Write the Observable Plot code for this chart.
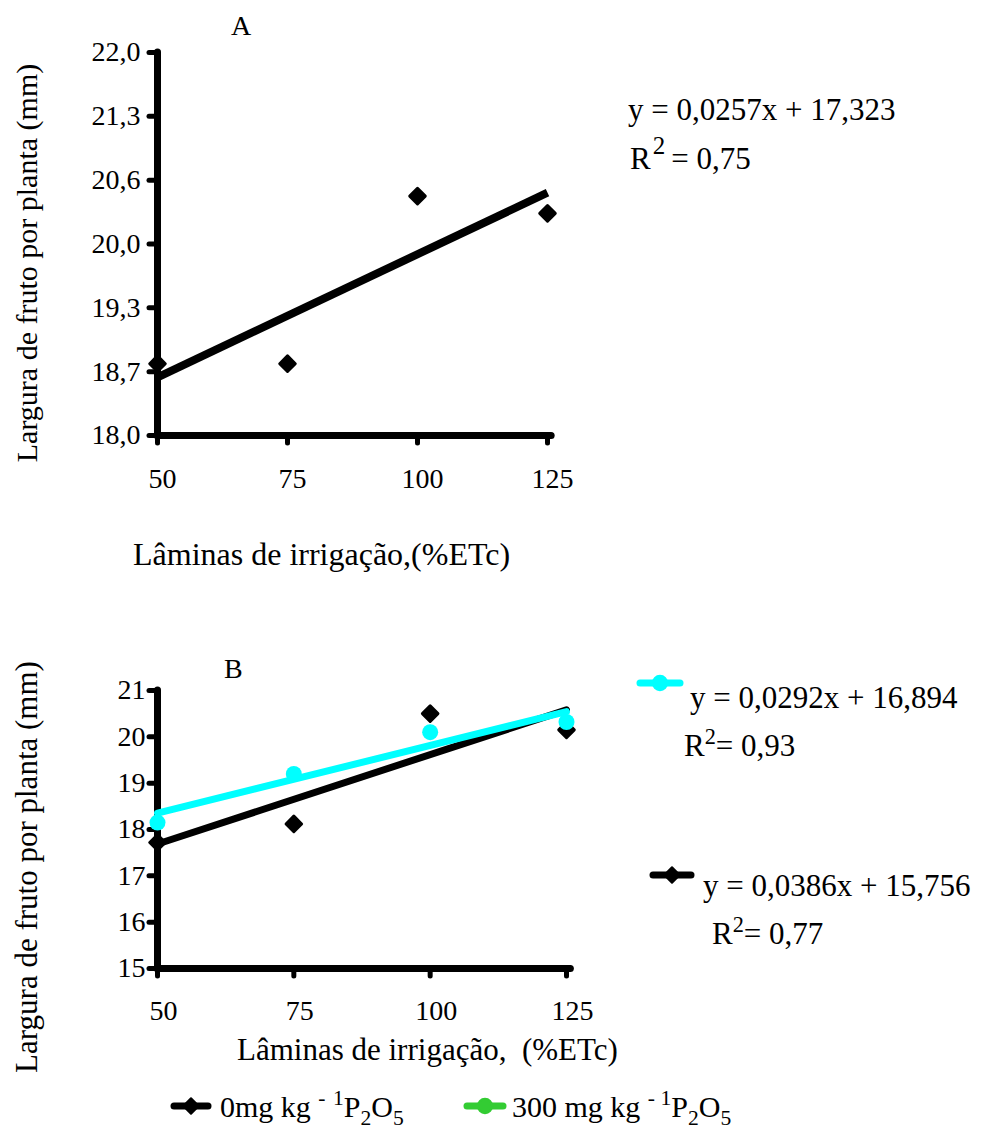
<!DOCTYPE html>
<html>
<head>
<meta charset="utf-8">
<script src="https://cdn.jsdelivr.net/npm/d3@7"></script>
<script src="https://cdn.jsdelivr.net/npm/@observablehq/plot@0.6"></script>
<style>
  body { margin: 0; background: #fff; }
  #page { position: relative; width: 982px; height: 1130px; overflow: hidden; color: #000;
          font-family: "Times New Roman"; }
  #page svg.panel { position: absolute; left: 0; }
  .t { position: absolute; white-space: pre; line-height: 1; transform: translateY(-50%); }
  .t sup, .t sub { line-height: 0; font-size: 0.72em; }
  .t sup { vertical-align: 0.55em; }
  .t sub { vertical-align: -0.35em; }
  .ytitle { position: absolute; white-space: pre; line-height: 1;
            transform: translate(-50%, -50%) rotate(-90deg); }
  .sw { position: absolute; transform: translateY(-50%); }
</style>
</head>
<body>
<div id="page"></div>
<script>
// Irrigation depths (% ETc)
const doses = [50, 75, 100, 125];

// Panel A: fruit width (mm), single treatment
const widthA = [18.75, 18.75, 20.50, 20.32];
const fitA = [0.0257, 17.323];        // slope, intercept
const r2A = 0.75;
const yTicksA = [18.0, 18.667, 19.333, 20.0, 20.667, 21.333, 22.0];
const yLabelsA = ["18,0", "18,7", "19,3", "20,0", "20,6", "21,3", "22,0"];

// Panel B: fruit width (mm) by phosphorus dose
const widthB0 = [17.72, 18.12, 20.50, 20.15];    // 0 mg kg-1 P2O5
const widthB300 = [18.15, 19.20, 20.10, 20.32];  // 300 mg kg-1 P2O5
const fitB0 = [0.0386, 15.756];
const fitB300 = [0.0292, 16.894];
const r2B0 = 0.77;
const r2B300 = 0.93;
const yTicksB = [15, 16, 17, 18, 19, 20, 21];
const xTicks = [50, 75, 100, 125];

const FONT = '"Times New Roman"';
const CYAN = "#00ffff";
const GREEN = "#33cc33";

const page = document.getElementById("page");
const fmt = (v, d) => v.toFixed(d).replace(".", ",");
const eqText = f => `y = ${fmt(f[0], 4)}x + ${fmt(f[1], 3)}`;
const fitLine = f => d3.extent(doses).map(x => ({x, y: f[0] * x + f[1]}));
const rows = ys => doses.map((x, i) => ({x, y: ys[i]}));

function axes(yDomain, yTicks, yFormat, yPad, xPad, xDx) {
  return [
    Plot.axisY({ticks: yTicks, tickFormat: yFormat, tickSize: 8, tickPadding: yPad,
                strokeWidth: 5, strokeLinecap: "round", fontSize: 28, fontFamily: FONT, label: null}),
    // x tick stubs
    Plot.axisX({ticks: xTicks, tickFormat: () => "", tickSize: 8,
                strokeWidth: 5, strokeLinecap: "round", label: null}),
    // x tick labels, nudged right
    Plot.axisX({ticks: xTicks, tickSize: 0, tickPadding: xPad, dx: xDx,
                fontSize: 28, fontFamily: FONT, label: null}),
    Plot.ruleX([50], {y1: yDomain[0], y2: yDomain[1], strokeWidth: 7, strokeLinecap: "round"}),
    Plot.ruleY([yDomain[0]], {x1: 50, x2: 125.8, strokeWidth: 7, strokeLinecap: "round"})
  ];
}

// ---- Panel A ----
const plotA = Plot.plot({
  width: 620, height: 520,
  marginLeft: 157, marginRight: 73, marginTop: 52, marginBottom: 85,
  style: {fontFamily: FONT, fontSize: "28px", color: "#000", background: "transparent"},
  x: {domain: [50, 125]},
  y: {domain: [18, 22]},
  marks: [
    ...axes([18, 22], yTicksA, d => yLabelsA[yTicksA.indexOf(d)], 9, 33, 5),
    Plot.line(fitLine(fitA), {x: "x", y: "y", stroke: "#000", strokeWidth: 8, strokeLinecap: "butt"}),
    Plot.dot(rows(widthA), {x: "x", y: "y", symbol: "diamond2", r: 7, fill: "#000",
                            stroke: "#000", strokeWidth: 3, strokeLinejoin: "round"})
  ]
});
plotA.classList.add("panel");
plotA.style.top = "0px";
page.appendChild(plotA);

// ---- Panel B ----
const plotB = Plot.plot({
  width: 640, height: 440,
  marginLeft: 157, marginRight: 74, marginTop: 50, marginBottom: 112,
  style: {fontFamily: FONT, fontSize: "28px", color: "#000", background: "transparent"},
  x: {domain: [50, 125]},
  y: {domain: [15, 21]},
  marks: [
    ...axes([15, 21], yTicksB, d => String(d), 4, 32, 6),
    Plot.line(fitLine(fitB0), {x: "x", y: "y", stroke: "#000", strokeWidth: 7, strokeLinecap: "round"}),
    Plot.dot(rows(widthB0), {x: "x", y: "y", symbol: "diamond2", r: 7, fill: "#000",
                             stroke: "#000", strokeWidth: 3, strokeLinejoin: "round"}),
    Plot.line(fitLine(fitB300), {x: "x", y: "y", stroke: CYAN, strokeWidth: 7, strokeLinecap: "round"}),
    Plot.dot(rows(widthB300), {x: "x", y: "y", r: 8, fill: CYAN})
  ]
});
plotB.classList.add("panel");
plotB.style.top = "640px";
page.appendChild(plotB);

// ---- Text and legend ----
function text(html, x, y, size) {
  const el = document.createElement("div");
  el.className = "t";
  el.style.left = x + "px";
  el.style.top = y + "px";
  el.style.font = `${size}px ${FONT}`;
  el.innerHTML = html;
  page.appendChild(el);
  return el;
}
function ytitle(str, x, y, size) {
  const el = document.createElement("div");
  el.className = "ytitle";
  el.style.left = x + "px";
  el.style.top = y + "px";
  el.style.font = `${size}px ${FONT}`;
  el.textContent = str;
  page.appendChild(el);
}
function swatch(color, symbol, x0, x1, y) {
  const w = x1 - x0, h = 24;
  const svg = d3.create("svg").attr("class", "sw").attr("width", w).attr("height", h)
    .style("left", x0 + "px").style("top", y + "px");
  svg.append("line").attr("x1", 4).attr("x2", w - 4).attr("y1", h / 2).attr("y2", h / 2)
    .attr("stroke", color).attr("stroke-width", 7).attr("stroke-linecap", "round");
  svg.append("path")
    .attr("d", d3.symbol(symbol === "diamond" ? d3.symbolDiamond2 : d3.symbolCircle,
                         symbol === "diamond" ? 150 : 160)())
    .attr("transform", `translate(${w / 2},${h / 2})`)
    .attr("fill", color).attr("stroke", color).attr("stroke-width", 2).attr("stroke-linejoin", "round");
  page.appendChild(svg.node());
}

// Panel A annotations
text("A", 231, 26, 28);
ytitle("Largura de fruto por planta (mm)", 27, 263, 30);
text("Lâminas de irrigação,(%ETc)", 133, 554, 32);
text(eqText(fitA), 628, 110, 31);
text(`R<span style="position:relative;top:-15px;font-size:25px;margin:0 6px 0 2px">2</span>= ${fmt(r2A, 2)}`, 630, 159, 31);

// Panel B annotations
text("B", 224, 669, 28);
ytitle("Largura de fruto por planta (mm)", 27, 867, 31);
text("Lâminas de irrigação,  (%ETc)", 237, 1050, 31);

swatch(CYAN, "circle", 636, 684, 683);
text(eqText(fitB300), 690, 698, 31);
text(`R<sup>2</sup>= ${fmt(r2B300, 2)}`, 684, 746, 31);

swatch("#000", "diamond", 649, 695, 875);
text(eqText(fitB0), 703, 886, 31);
text(`R<sup>2</sup>= ${fmt(r2B0, 2)}`, 712, 934, 31);

// Bottom legend
swatch("#000", "diamond", 170, 212, 1106);
text(`0mg kg <sup>-</sup> <sup>1</sup>P<sub>2</sub>O<sub>5</sub>`, 220, 1107, 30);
swatch(GREEN, "circle", 463, 507, 1106);
text(`300 mg kg <sup>-</sup><sup> 1</sup>P<sub>2</sub>O<sub>5</sub>`, 512, 1107, 30);
</script>
</body>
</html>
